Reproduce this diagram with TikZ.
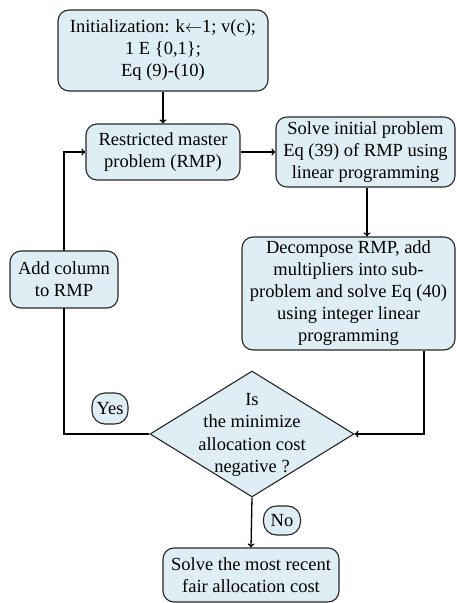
\documentclass[tikz,border=0pt]{standalone}
\usepackage{fontspec}
\setmainfont{Liberation Serif}
\usetikzlibrary{shapes.geometric,backgrounds,calc,arrows.meta}
\definecolor{boxfill}{HTML}{DFEEF4}
\tikzset{
  x=1pt,y=1pt,
  box/.style={draw=black!85, line width=1.1pt, fill=boxfill, rounded corners=11pt,
    align=center, inner sep=0pt, font=\fontsize{18.5}{22}\selectfont},
  tag/.style={draw=black!85, line width=1.1pt, fill=boxfill, rounded corners=13pt,
    align=center, inner sep=0pt, font=\fontsize{18.5}{22}\selectfont},
  conn/.style={line width=1.3pt, black},
  arr/.style={conn, -{To[length=4pt,width=7pt]}},
}
\begin{document}
\begin{tikzpicture}
\useasboundingbox (0,0) rectangle (456,603);
\node[box, minimum width=210pt, minimum height=81pt] (init) at (163,552.5)
  {Initialization: k\ensuremath{\leftarrow}1; v(c);\\ 1 E \{0,1\};\\ Eq (9)-(10)};
\node[box, minimum width=154pt, minimum height=56pt] (rmp) at (163,451)
  {Restricted master\\ problem (RMP)};
\node[box, minimum width=179pt, minimum height=70pt] (solve) at (365.5,451)
  {Solve initial problem\\ Eq (39) of RMP using\\ linear programming};
\node[box, minimum width=213pt, minimum height=113pt] (dec) at (348.5,309.5)
  {Decompose RMP, add\\ multipliers into sub-\\ problem and solve Eq (40)\\ using integer linear\\ programming};
\node[box, minimum width=108pt, minimum height=57pt] (add) at (64,323.5)
  {Add column\\ to RMP};
\node[draw=black!85, line width=1.1pt, fill=boxfill, diamond, inner sep=0pt,
  minimum width=204pt, minimum height=126pt] (dia) at (252,169) {};
\node[align=center, font=\fontsize{18.5}{22.5}\selectfont] (diatext) at (252,168)
  {Is\\ the minimize\\ allocation cost\\ negative ?};
\node[tag, minimum width=36pt, minimum height=31pt] (yes) at (110,194.5) {Yes};
\node[tag, minimum width=37pt, minimum height=29pt] (no) at (282,82.5) {No};
\node[box, minimum width=176pt, minimum height=54pt] (final) at (251,28)
  {Solve the most recent\\ fair allocation cost};
\coordinate (rx) at (424,0);
\coordinate (sx) at (367,0);
\begin{scope}[on background layer]
\draw[arr] (solve.south -| sx) -- (dec.north -| sx);
\draw[arr] (init.south) -- (rmp.north);
\draw[arr] (rmp.east) -- (solve.west);
\draw[arr] (dec.south -| rx) |- (dia.east);
\draw[arr] (dia.west) -| (add.center) |- (rmp.west);
\draw[arr] (dia.south) -- (final.north);
\end{scope}
\end{tikzpicture}
\end{document}
